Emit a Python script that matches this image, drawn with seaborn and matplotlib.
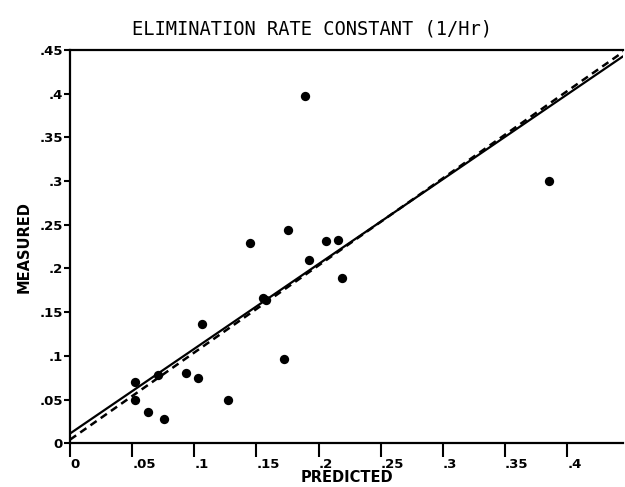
import numpy as np
import pandas as pd
from matplotlib import pyplot as plt
import seaborn as sns

sns.set_style('ticks', {'text.color': 'black', 'axes.labelcolor': 'black',
                        'xtick.color': 'black', 'ytick.color': 'black',
                        'axes.edgecolor': 'black'})
plt.rcParams['font.family'] = ['DejaVu Sans']

# measured vs predicted elimination rate constants
predicted = [0.052, 0.052, 0.063, 0.076, 0.071, 0.093, 0.103, 0.106, 0.127,
             0.172, 0.155, 0.158, 0.192, 0.219, 0.145, 0.206, 0.216, 0.175,
             0.189, 0.385]
measured = [0.070, 0.049, 0.036, 0.028, 0.078, 0.080, 0.075, 0.136, 0.049,
            0.096, 0.166, 0.164, 0.210, 0.189, 0.229, 0.231, 0.233, 0.244,
            0.397, 0.300]

# regression line (solid) and line of identity (dashed)
fit_x = [0.0, 0.445]
fit_y = [0.011, 0.443]
ident_x = [0.0, 0.445]
ident_y = [0.004, 0.448]

ticks = [0, 0.05, 0.1, 0.15, 0.2, 0.25, 0.3, 0.35, 0.4, 0.45]
tick_labels = ['0', '.05', '.1', '.15', '.2', '.25', '.3', '.35', '.4', '.45']

df = pd.DataFrame({'predicted': predicted, 'measured': measured})

fig = plt.figure(figsize=(6.25, 4.87), dpi=100)
ax = fig.add_axes([0.112, 0.090, 0.885, 0.807])

sns.lineplot(x=fit_x, y=fit_y, ax=ax, color='black', linewidth=1.6)
sns.lineplot(x=ident_x, y=ident_y, ax=ax, color='black', linewidth=1.8,
             linestyle=(0, (3, 2)))
sns.scatterplot(x='predicted', y='measured', data=df, ax=ax, color='black',
                s=45, edgecolor='black', linewidth=0, zorder=5)

ax.set_xlim(0, 0.445)
ax.set_ylim(0, 0.45)
ax.set_xticks(ticks[:-1])
ax.set_xticklabels(tick_labels[:-1], fontweight='bold', fontsize=9.5,
                   ha='left')
ax.set_yticks(ticks)
ax.set_yticklabels(tick_labels, fontweight='bold', fontsize=9.5)
ax.tick_params(axis='x', direction='out', length=10, width=1.5, pad=1)
ax.tick_params(axis='y', direction='out', length=4, width=1.5, pad=1)

for side in ['left', 'bottom', 'top']:
    ax.spines[side].set_linewidth(1.6)
ax.spines['right'].set_visible(False)

ax.set_xlabel('PREDICTED', fontweight='bold', fontsize=10.5, labelpad=-1)
ax.set_ylabel('MEASURED', fontweight='bold', fontsize=10.5, labelpad=6)

fig.text(0.5, 0.94, 'ELIMINATION RATE CONSTANT (1/Hr)', ha='center',
         va='center', fontsize=13.5, family='DejaVu Sans Mono')

plt.savefig('out.png', dpi=100)
print('finished')
